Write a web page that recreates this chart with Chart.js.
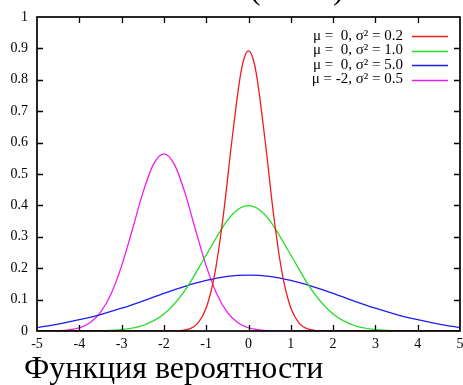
<!DOCTYPE html>
<html>
<head>
<meta charset="utf-8">
<script src="https://cdn.jsdelivr.net/npm/chart.js@4/dist/chart.umd.min.js"></script>
<style>
  body { margin:0; background:#fff; }
  #wrap { position:relative; width:463px; height:385px; overflow:hidden; background:#fff; }
  canvas { position:absolute; left:0; top:0; }
  .txt { position:absolute; font-family:'Liberation Serif', serif; font-size:32px; line-height:32px; color:#000; white-space:nowrap; }
</style>
</head>
<body>
<div id="wrap">
  <canvas id="c" width="463" height="385"></canvas>
  <div class="txt" style="left:250px; top:-28px;">(</div>
  <div class="txt" style="left:333px; top:-28px;">)</div>
  <div class="txt" id="cap" style="left:24px; top:351px;">Функция вероятности</div>
</div>
<script>
// ---- data ----
const xTickValues = [-5, -4, -3, -2, -1, 0, 1, 2, 3, 4, 5];
const yTickValues = [0, 0.1, 0.2, 0.3, 0.4, 0.5, 0.6, 0.7, 0.8, 0.9, 1];
const yTickLabels = ['0', '0.1', '0.2', '0.3', '0.4', '0.5', '0.6', '0.7', '0.8', '0.9', '1'];

const seriesLabels = ['μ =  0, σ² = 0.2', 'μ =  0, σ² = 1.0', 'μ =  0, σ² = 5.0', 'μ = -2, σ² = 0.5'];
const seriesColors = ['#ee1c1c', '#22dd22', '#1c1cee', '#ee1cee'];

const redX = [-5, -3, -2, -1.8, -1.6, -1.4, -1.2, -1, -0.8, -0.6, -0.4, -0.2, -0.1, 0, 0.1, 0.2, 0.4, 0.6, 0.8, 1, 1.2, 1.4, 1.6, 1.8, 2, 3, 5];
const redY = [0, 0, 0, 0.0003, 0.0015, 0.0066, 0.0244, 0.0732, 0.180, 0.363, 0.598, 0.807, 0.870, 0.892, 0.870, 0.807, 0.598, 0.363, 0.180, 0.0732, 0.0244, 0.0066, 0.0015, 0.0003, 0, 0, 0];

const greenX = [-5, -4.5, -4, -3.5, -3, -2.5, -2, -1.5, -1, -0.5, -0.25, 0, 0.25, 0.5, 1, 1.5, 2, 2.5, 3, 3.5, 4, 4.5, 5];
const greenY = [0, 0, 0.0001, 0.0009, 0.0044, 0.0175, 0.054, 0.1295, 0.242, 0.352, 0.387, 0.399, 0.387, 0.352, 0.242, 0.1295, 0.054, 0.0175, 0.0044, 0.0009, 0.0001, 0, 0];

const blueX = [-5, -4.5, -4, -3.5, -3, -2.5, -2, -1.5, -1, -0.5, 0, 0.5, 1, 1.5, 2, 2.5, 3, 3.5, 4, 4.5, 5];
const blueY = [0.011, 0.022, 0.036, 0.0524, 0.0725, 0.0955, 0.120, 0.1425, 0.161, 0.174, 0.178, 0.174, 0.161, 0.1425, 0.120, 0.0955, 0.0725, 0.0524, 0.036, 0.022, 0.011];

const magentaX = [-5, -4.5, -4, -3.75, -3.5, -3.25, -3, -2.75, -2.5, -2.25, -2, -1.75, -1.5, -1.25, -1, -0.75, -0.5, -0.25, 0, 0.5, 1, 2, 5];
const magentaY = [0.0001, 0.0011, 0.0103, 0.0264, 0.0594, 0.118, 0.2075, 0.321, 0.439, 0.530, 0.564, 0.530, 0.439, 0.321, 0.2075, 0.118, 0.0594, 0.0264, 0.0103, 0.0011, 0.0001, 0, 0];

// ---- build ----
const xs = [redX, greenX, blueX, magentaX];
const ys = [redY, greenY, blueY, magentaY];
const datasets = xs.map((xa, i) => ({
  label: seriesLabels[i],
  data: xa.map((x, j) => ({ x: x, y: ys[i][j] })),
  borderColor: seriesColors[i],
  backgroundColor: seriesColors[i],
  borderWidth: 1.3,
  pointRadius: 0,
  showLine: true,
  fill: false,
  cubicInterpolationMode: 'monotone'
}));

const serif = "'Liberation Serif', serif";

const framePlugin = {
  id: 'frame',
  afterDatasetsDraw(chart) {
    const ctx = chart.ctx, a = chart.chartArea;
    const sx = chart.scales.x, sy = chart.scales.y;
    ctx.save();
    ctx.strokeStyle = '#000';
    ctx.lineWidth = 1.3;
    const tl = 6;
    ctx.beginPath();
    xTickValues.forEach(v => {
      const p = Math.round(sx.getPixelForValue(v)) + 0.5;
      if (v === xTickValues[0] || v === xTickValues[xTickValues.length - 1]) return;
      ctx.moveTo(p, a.bottom); ctx.lineTo(p, a.bottom - tl);
      ctx.moveTo(p, a.top); ctx.lineTo(p, a.top + tl);
    });
    yTickValues.forEach(v => {
      const p = Math.round(sy.getPixelForValue(v)) + 0.5;
      if (v === yTickValues[0] || v === yTickValues[yTickValues.length - 1]) return;
      ctx.moveTo(a.left, p); ctx.lineTo(a.left + tl, p);
      ctx.moveTo(a.right, p); ctx.lineTo(a.right - tl, p);
    });
    ctx.stroke();
    ctx.lineWidth = 1.7;
    ctx.strokeRect(a.left, a.top, a.right - a.left, a.bottom - a.top);

    // gnuplot-style key, top-right inside plot
    ctx.font = '15px ' + serif;
    ctx.textAlign = 'right';
    ctx.textBaseline = 'middle';
    ctx.fillStyle = '#000';
    chart.data.datasets.forEach((ds, i) => {
      const yy = a.top + 19 + i * 14.5;
      ctx.fillText(ds.label, a.right - 57, yy);
      ctx.strokeStyle = ds.borderColor;
      ctx.lineWidth = 1.3;
      ctx.beginPath();
      ctx.moveTo(a.right - 48, Math.round(yy) + 0.5);
      ctx.lineTo(a.right - 12, Math.round(yy) + 0.5);
      ctx.stroke();
    });
    ctx.restore();
  }
};

new Chart(document.getElementById('c'), {
  type: 'scatter',
  data: { datasets: datasets },
  options: {
    responsive: false,
    animation: false,
    devicePixelRatio: 1,
    layout: { padding: { top: 17, right: 3, bottom: 32, left: 0 } },
    plugins: { legend: { display: false }, tooltip: { enabled: false }, title: { display: false } },
    scales: {
      x: {
        type: 'linear', min: -5, max: 5,
        grid: { display: false, drawTicks: false },
        border: { display: false },
        afterBuildTicks: s => { s.ticks = xTickValues.map(v => ({ value: v })); },
        afterFit: s => { s.height = 22; s.paddingLeft = 0; s.paddingRight = 0; },
        ticks: { color: '#000', font: { family: serif, size: 14 }, padding: 5, autoSkip: false, maxRotation: 0,
                 callback: v => String(v) }
      },
      y: {
        type: 'linear', min: 0, max: 1,
        grid: { display: false, drawTicks: false },
        border: { display: false },
        afterBuildTicks: s => { s.ticks = yTickValues.map(v => ({ value: v })); },
        afterFit: s => { s.width = 37; s.paddingTop = 0; s.paddingBottom = 0; },
        ticks: { color: '#000', font: { family: serif, size: 14 }, padding: 9, autoSkip: false,
                 callback: (v, i) => yTickLabels[i] }
      }
    }
  },
  plugins: [framePlugin]
});
</script>
</body>
</html>
